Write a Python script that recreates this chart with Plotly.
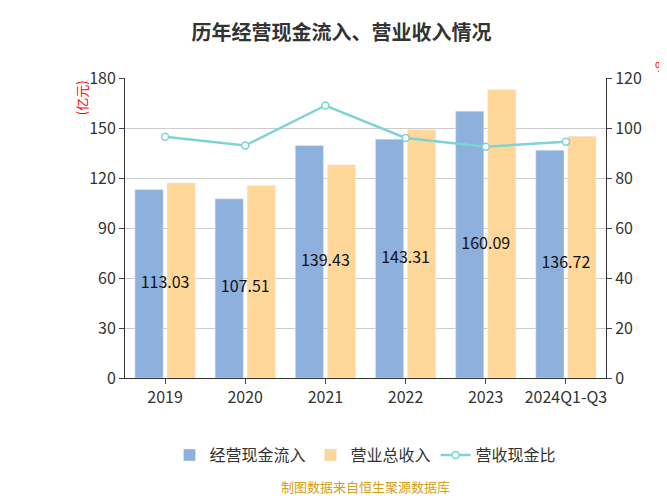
import plotly.graph_objects as go

years = ["2019", "2020", "2021", "2022", "2023", "2024Q1-Q3"]
cash_in = [113.03, 107.51, 139.43, 143.31, 160.09, 136.72]
revenue = [117.0, 115.5, 128.0, 149.0, 173.0, 145.0]
ratio = [96.5, 93.0, 109.0, 96.0, 92.5, 94.5]

fig = go.Figure()
fig.add_bar(x=years, y=cash_in, name="经营现金流入", marker_color="#8eb0dc", offsetgroup=1)
fig.add_bar(x=years, y=revenue, name="营业总收入", marker_color="#ffd899", offsetgroup=2)
fig.add_scatter(x=years, y=[v / 2 for v in cash_in], mode="text", text=[f"{v:.2f}" for v in cash_in],
                textfont=dict(size=16, color="#111"), showlegend=False, hoverinfo="skip", cliponaxis=False)
fig.add_scatter(x=years, y=ratio, name="营收现金比", yaxis="y2", mode="lines+markers",
                line=dict(color="#7fd3d6", width=2.5),
                marker=dict(size=7, color="white", line=dict(color="#7fd3d6", width=1.5)))

fig.update_layout(
    width=667, height=500, plot_bgcolor="white", paper_bgcolor="white",
    margin=dict(l=117, r=69, t=70, b=130, autoexpand=False),
    font=dict(family="Noto Sans CJK SC", color="#333"),
    title=dict(text="<b>历年经营现金流入、营业收入情况</b>", x=0.5, y=0.965, xanchor="center",
               font=dict(size=20, color="#333")),
    bargap=0.2, bargroupgap=0.12,
    xaxis=dict(showline=True, linecolor="#333", ticks="outside", tickfont=dict(size=16)),
    yaxis=dict(range=[0, 180], dtick=30, gridcolor="#ccc", showline=True, linecolor="#333",
               ticks="outside", tickfont=dict(size=16)),
    yaxis2=dict(range=[0, 120], dtick=20, overlaying="y", side="right", showgrid=False,
                showline=True, linecolor="#333", ticks="outside", tickfont=dict(size=16)),
    legend=dict(orientation="h", x=0.5, xanchor="center", y=-0.2, yanchor="top",
                font=dict(size=16), traceorder="normal"),
    annotations=[
        dict(text="(亿元)", x=-0.09, y=1.0, xref="paper", yref="paper", textangle=-90,
             showarrow=False, font=dict(size=13, color="red"), xanchor="center", yanchor="top"),
        dict(text="%", x=1.13, y=1.0, xref="paper", yref="paper", showarrow=False,
             font=dict(size=13, color="red"), yanchor="bottom"),
        dict(text="制图数据来自恒生聚源数据库", x=0.5, y=-0.4, xref="paper", yref="paper",
             xanchor="center", showarrow=False, font=dict(size=13, color="#d4a017")),
    ],
)
fig.write_html("out.html")
